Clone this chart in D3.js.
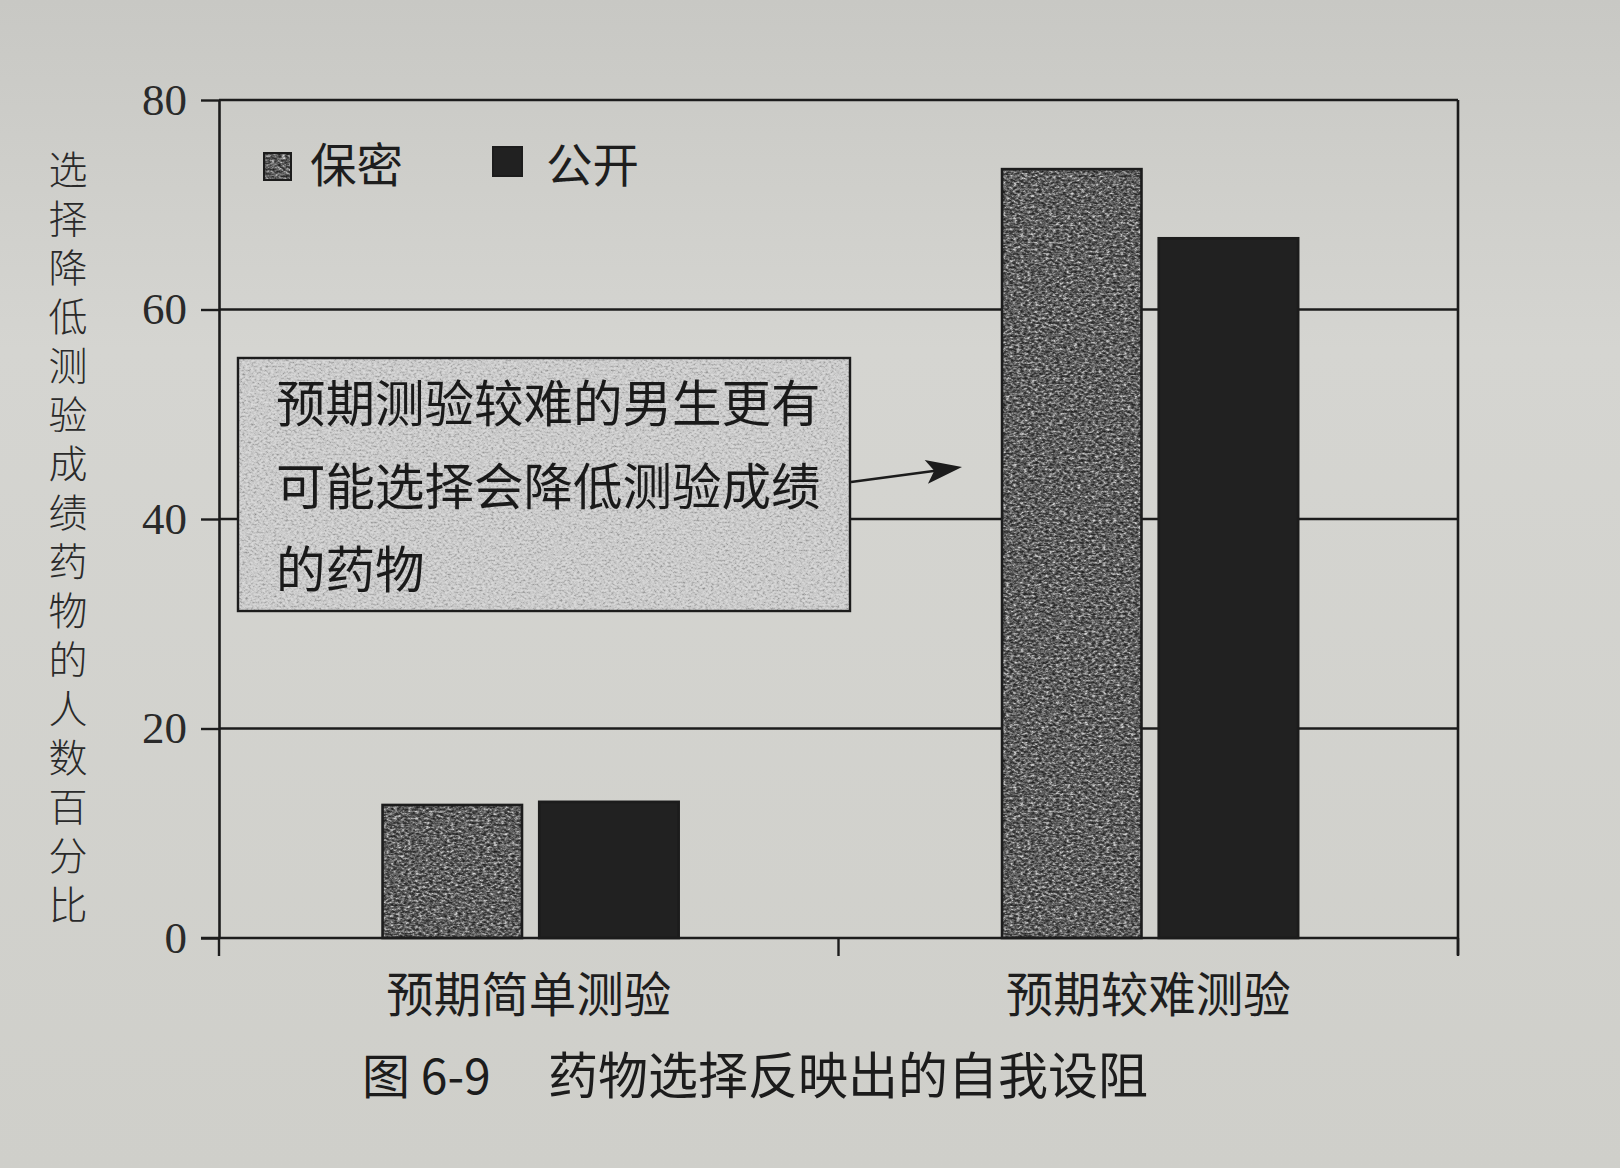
<!DOCTYPE html>
<html>
<head>
<meta charset="utf-8">
<script src="https://cdn.jsdelivr.net/npm/d3@7"></script>
<style>
  html, body { margin: 0; padding: 0; background: #d2d2ce; }
  svg { display: block; }
</style>
</head>
<body>
<svg id="chart" width="1620" height="1168"></svg>
<script>
// chart data
const categories = ['预期简单测验', '预期较难测验'];
const seriesNames = ['保密', '公开'];
const secretValues = [12.7, 73.4];
const publicValues = [13.0, 66.8];
const yTicks = [0, 20, 40, 60, 80];
const yLabel = '选择降低测验成绩药物的人数百分比';
const noteLines = ['预期测验较难的男生更有', '可能选择会降低测验成绩', '的药物'];
const captionNo = '图 6-9';
const captionText = '药物选择反映出的自我设阻';

const W = 1620, H = 1168;
const margin = { top: 100, right: 162, bottom: 230, left: 219 };
const inkColor = '#1c1c1c';
const cjk = '"Noto Sans CJK SC", "Noto Sans", sans-serif';

const svg = d3.select('#chart');
const defs = svg.append('defs');

// paper background
const bg = defs.append('linearGradient').attr('id', 'paper').attr('x1', 0).attr('y1', 0).attr('x2', 0).attr('y2', 1);
bg.append('stop').attr('offset', '0%').attr('stop-color', '#c8c8c4');
bg.append('stop').attr('offset', '30%').attr('stop-color', '#d5d5d1');
bg.append('stop').attr('offset', '100%').attr('stop-color', '#cfcfca');
svg.append('rect').attr('width', W).attr('height', H).attr('fill', 'url(#paper)');

// grainy fill for the textured marks (gray levels from a lookup table)
const makeGrain = (id, table, freq) => {
  const f = defs.append('filter').attr('id', id)
    .attr('color-interpolation-filters', 'sRGB')
    .attr('x', '0%').attr('y', '0%').attr('width', '100%').attr('height', '100%');
  f.append('feTurbulence').attr('type', 'fractalNoise')
    .attr('baseFrequency', freq).attr('numOctaves', 3).attr('seed', 7).attr('result', 'n');
  f.append('feColorMatrix').attr('in', 'n').attr('type', 'matrix')
    .attr('values', '1 0 0 0 0  1 0 0 0 0  1 0 0 0 0  0 0 0 0 1').attr('result', 'g');
  const ct = f.append('feComponentTransfer').attr('in', 'g').attr('result', 'c');
  ['feFuncR', 'feFuncG', 'feFuncB'].forEach((fn) => {
    ct.append(fn).attr('type', 'table').attr('tableValues', table);
  });
  f.append('feComposite').attr('in', 'c').attr('in2', 'SourceGraphic').attr('operator', 'in');
};
makeGrain('grainDark', '0.08 0.14 0.26 0.48 0.8 0.9', '0.28 0.45');
makeGrain('grainLight', '0.5 0.62 0.76 0.83 0.86 0.88', '0.35 0.5');

const innerW = W - margin.left - margin.right;
const innerH = H - margin.top - margin.bottom;

const x0 = d3.scaleBand().domain(categories).range([margin.left, margin.left + innerW]);
const x1 = d3.scaleBand().domain(seriesNames)
  .range([x0.bandwidth() * 0.264, x0.bandwidth() * 0.742]).paddingInner(0.11);
const y = d3.scaleLinear().domain([0, 80]).range([margin.top + innerH, margin.top]);

// gridlines + frame
svg.append('g').selectAll('line').data(yTicks.filter((d) => d > 0)).join('line')
  .attr('x1', margin.left).attr('x2', margin.left + innerW)
  .attr('y1', (d) => y(d)).attr('y2', (d) => y(d))
  .attr('stroke', inkColor).attr('stroke-width', 2.4);
svg.append('line')
  .attr('x1', margin.left + innerW).attr('x2', margin.left + innerW)
  .attr('y1', y(80)).attr('y2', y(0) + 17)
  .attr('stroke', inkColor).attr('stroke-width', 2.6);

// annotation box
const box = { x: 238, y: 358, w: 612, h: 253 };
svg.append('rect').attr('x', box.x).attr('y', box.y).attr('width', box.w).attr('height', box.h)
  .attr('fill', '#d8d8d4').attr('filter', 'url(#grainLight)');
svg.append('rect').attr('x', box.x).attr('y', box.y).attr('width', box.w).attr('height', box.h)
  .attr('fill', 'none').attr('stroke', inkColor).attr('stroke-width', 2.4);
svg.append('g').selectAll('text').data(noteLines).join('text')
  .attr('x', 276).attr('y', (d, i) => 422 + i * 83)
  .attr('font-family', cjk).attr('font-size', 49.5).attr('fill', '#1a1a1a')
  .text((d) => d);

// arrow from the box towards the hard-test bars
const arrowFrom = [851, 482], arrowTo = [962, 467];
svg.append('line')
  .attr('x1', arrowFrom[0]).attr('y1', arrowFrom[1])
  .attr('x2', arrowTo[0] - 6).attr('y2', arrowTo[1] + 1)
  .attr('stroke', inkColor).attr('stroke-width', 2.4);
const ang = Math.atan2(arrowTo[1] - arrowFrom[1], arrowTo[0] - arrowFrom[0]) * 180 / Math.PI;
svg.append('path').attr('d', 'M0,0 L-36,-12 L-28,0 L-36,12 Z')
  .attr('transform', `translate(${arrowTo[0]},${arrowTo[1]}) rotate(${ang})`)
  .attr('fill', inkColor);

// bars
const rows = categories.map((c, i) => ({ category: c, values: [secretValues[i], publicValues[i]] }));
const barData = (d) => d.values.map((v, i) => ({ name: seriesNames[i], value: v }));
const groups = svg.append('g').selectAll('g').data(rows).join('g')
  .attr('transform', (d) => `translate(${x0(d.category)},0)`);
groups.selectAll('rect.fill').data(barData).join('rect')
  .attr('class', 'fill')
  .attr('x', (d) => x1(d.name)).attr('width', x1.bandwidth())
  .attr('y', (d) => y(d.value)).attr('height', (d) => y(0) - y(d.value))
  .attr('fill', (d) => (d.name === '保密' ? '#6a6a6a' : '#212121'))
  .attr('filter', (d) => (d.name === '保密' ? 'url(#grainDark)' : null));
groups.selectAll('rect.edge').data(barData).join('rect')
  .attr('class', 'edge')
  .attr('x', (d) => x1(d.name)).attr('width', x1.bandwidth())
  .attr('y', (d) => y(d.value)).attr('height', (d) => y(0) - y(d.value))
  .attr('fill', 'none').attr('stroke', inkColor).attr('stroke-width', 2.6);

// y axis
const yAxis = svg.append('g').attr('transform', `translate(${margin.left},0)`)
  .call(d3.axisLeft(y).tickValues(yTicks).tickSize(18).tickPadding(14).tickSizeOuter(0));
yAxis.select('.domain').attr('stroke', inkColor).attr('stroke-width', 2.6);
yAxis.selectAll('.tick line').attr('stroke', inkColor).attr('stroke-width', 2.4);
yAxis.selectAll('.tick text')
  .attr('font-family', '"Liberation Serif", "DejaVu Serif", serif')
  .attr('font-size', 45).attr('fill', '#2a2a2a');

// x axis: baseline, boundary ticks, category labels
svg.append('line').attr('x1', margin.left - 18).attr('x2', margin.left + innerW)
  .attr('y1', y(0)).attr('y2', y(0)).attr('stroke', inkColor).attr('stroke-width', 2.6);
const bounds = [...categories.map((c) => x0(c)), margin.left + innerW];
svg.append('g').selectAll('line').data(bounds).join('line')
  .attr('x1', (d) => d).attr('x2', (d) => d)
  .attr('y1', y(0)).attr('y2', y(0) + 18)
  .attr('stroke', inkColor).attr('stroke-width', 2.4);
svg.append('g').selectAll('text').data(categories).join('text')
  .attr('x', (d) => x0(d) + x0.bandwidth() / 2)
  .attr('y', y(0) + 74)
  .attr('text-anchor', 'middle')
  .attr('font-family', cjk).attr('font-size', 47.5).attr('fill', '#1e1e1e')
  .text((d) => d);

// legend
const legend = svg.append('g');
const legendItems = [
  { name: seriesNames[0], sx: 264, sy: 153, s: 27, tx: 310 },
  { name: seriesNames[1], sx: 493, sy: 147, s: 29, tx: 546 },
];
legend.selectAll('rect.sw').data(legendItems).join('rect')
  .attr('class', 'sw')
  .attr('x', (d) => d.sx).attr('y', (d) => d.sy).attr('width', (d) => d.s).attr('height', (d) => d.s)
  .attr('fill', (d, i) => (i === 0 ? '#6a6a6a' : '#212121'))
  .attr('filter', (d, i) => (i === 0 ? 'url(#grainDark)' : null));
legend.selectAll('rect.sw-edge').data(legendItems).join('rect')
  .attr('class', 'sw-edge')
  .attr('x', (d) => d.sx).attr('y', (d) => d.sy).attr('width', (d) => d.s).attr('height', (d) => d.s)
  .attr('fill', 'none').attr('stroke', inkColor).attr('stroke-width', 2);
legend.selectAll('text').data(legendItems).join('text')
  .attr('x', (d) => d.tx).attr('y', 182)
  .attr('font-family', cjk).attr('font-size', 46.5).attr('fill', '#1e1e1e')
  .text((d) => d.name);

// vertical y-axis title
svg.append('text')
  .attr('x', 68).attr('y', 150)
  .attr('writing-mode', 'vertical-rl')
  .style('writing-mode', 'vertical-rl')
  .attr('letter-spacing', 10)
  .attr('font-family', cjk).attr('font-size', 39).attr('font-weight', 300).attr('fill', '#2a2a2a')
  .text(yLabel);

// figure caption
svg.append('text').attr('x', 362).attr('y', 1094)
  .attr('font-family', cjk).attr('font-size', 48).attr('fill', '#1c1c1c')
  .text(captionNo);
svg.append('text').attr('x', 548).attr('y', 1094)
  .attr('font-family', cjk).attr('font-size', 50).attr('fill', '#1c1c1c')
  .text(captionText);
</script>
</body>
</html>
